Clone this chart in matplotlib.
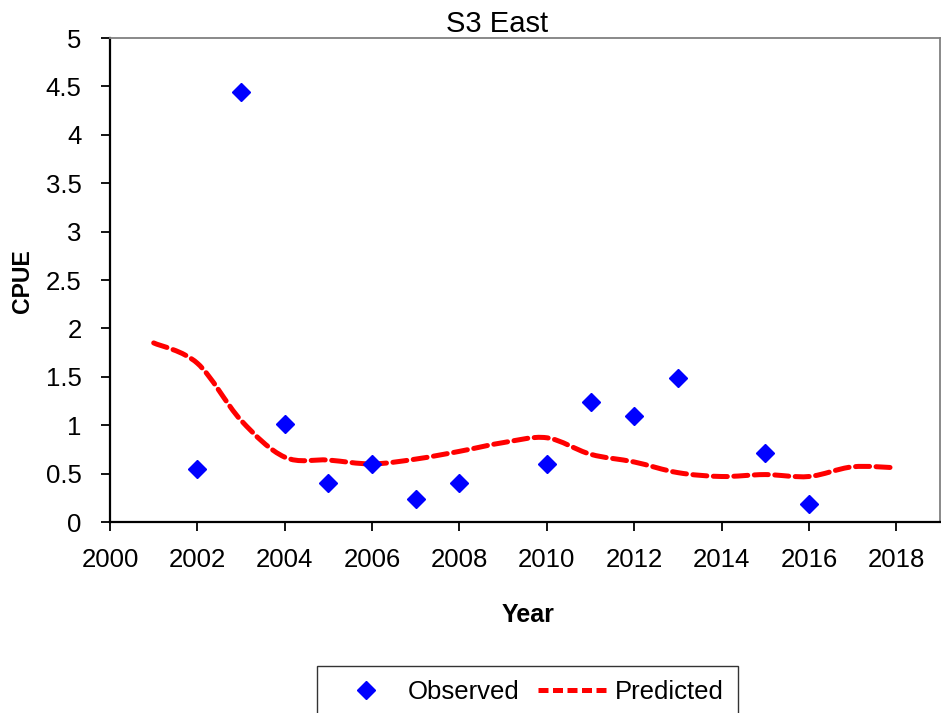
import matplotlib
matplotlib.use("Agg")
import matplotlib.pyplot as plt
from matplotlib.path import Path
from matplotlib.patches import PathPatch
from matplotlib.lines import Line2D
import numpy as np

plt.rcParams['font.family'] = ['Liberation Sans', 'DejaVu Sans']

obs_years = [2002, 2003, 2004, 2005, 2006, 2007, 2008, 2010, 2011, 2012, 2013, 2015, 2016]
obs_cpue = [0.55, 4.44, 1.01, 0.40, 0.60, 0.24, 0.40, 0.60, 1.24, 1.10, 1.49, 0.71, 0.19]

pred_years = [2001, 2002, 2003, 2004, 2005, 2006, 2007, 2008, 2009, 2010, 2011, 2012,
              2013, 2014, 2015, 2016, 2017, 2018]
pred_cpue = [1.85, 1.64, 1.05, 0.67, 0.64, 0.60, 0.65, 0.73, 0.82, 0.87, 0.70, 0.62,
             0.51, 0.47, 0.49, 0.47, 0.57, 0.56]

x_ticks = [2000, 2002, 2004, 2006, 2008, 2010, 2012, 2014, 2016, 2018]
y_ticks = [0, 0.5, 1, 1.5, 2, 2.5, 3, 3.5, 4, 4.5, 5]
y_tick_labels = ['0', '0.5', '1', '1.5', '2', '2.5', '3', '3.5', '4', '4.5', '5']

fig = plt.figure(figsize=(9.41, 7.13), dpi=100)
ax = fig.add_axes([110/941, 1-522/713, 830/941, 484/713])

# smoothed line (Excel-style Catmull-Rom bezier)
px = np.array(pred_years, float)
py = np.array(pred_cpue, float)
verts = [(px[0], py[0])]
codes = [Path.MOVETO]
n = len(px)
for i in range(n - 1):
    p0 = (px[max(i-1, 0)], py[max(i-1, 0)])
    p1 = (px[i], py[i])
    p2 = (px[i+1], py[i+1])
    p3 = (px[min(i+2, n-1)], py[min(i+2, n-1)])
    t = 1/6
    c1 = (p1[0] + (p2[0]-p0[0])*t, p1[1] + (p2[1]-p0[1])*t)
    c2 = (p2[0] - (p3[0]-p1[0])*t, p2[1] - (p3[1]-p1[1])*t)
    verts += [c1, c2, p2]
    codes += [Path.CURVE4]*3
patch = PathPatch(Path(verts, codes), facecolor='none', edgecolor='#ff0000',
                  linewidth=3.6, linestyle=(0, (2.8, 1.3)), capstyle='round', zorder=2)
ax.add_patch(patch)

ax.plot(obs_years, obs_cpue, linestyle='none', marker='D', markersize=9,
        markeredgewidth=1.0, color='#0000ff', markeredgecolor='#0000ff', zorder=3)

ax.set_xlim(2000, 2019)
ax.set_ylim(0, 5)
ax.set_xticks(x_ticks)
ax.set_xticklabels([str(v) for v in x_ticks])
ax.set_yticks(y_ticks)
ax.set_yticklabels(y_tick_labels)
ax.tick_params(axis='both', labelsize=18.5, direction='out', length=6.5, width=1.3, color='black')
ax.tick_params(axis='x', pad=12)
ax.tick_params(axis='y', pad=14)
for s in ['left', 'bottom']:
    ax.spines[s].set_color('black')
    ax.spines[s].set_linewidth(1.6)
for s in ['top', 'right']:
    ax.spines[s].set_color('#808080')
    ax.spines[s].set_linewidth(1.3)

fig.text(497/941, 1-24/713, 'S3 East', ha='center', va='center', fontsize=21)
fig.text(528/941, 1-615/713, 'Year', ha='center', va='center', fontsize=18, fontweight='bold')
fig.text(22/941, 1-281/713, 'CPUE', ha='center', va='center', fontsize=16.6,
         fontweight='bold', rotation=90)

handles = [Line2D([], [], linestyle='none', marker='D', markersize=9, color='#0000ff'),
           Line2D([], [], color='#ff0000', linewidth=3.6, linestyle=(0, (2.0, 0.9)))]
leg = fig.legend(handles, ['Observed', 'Predicted'], loc='upper left',
                 bbox_to_anchor=(317/941, 1-666/713), ncol=2, fontsize=18.5,
                 frameon=True, fancybox=False, edgecolor='black', borderpad=0.55,
                 handlelength=2.72, columnspacing=0.7, handletextpad=0.27,
                 borderaxespad=0)
leg.get_frame().set_linewidth(1.0)

fig.savefig('out.png', dpi=100)
